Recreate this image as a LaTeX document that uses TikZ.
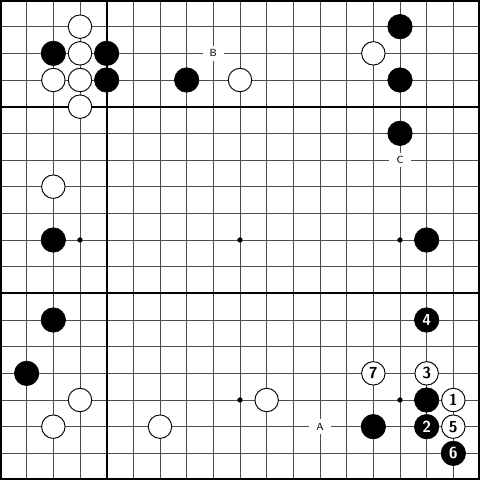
\documentclass[tikz,border=0pt]{standalone}
\usepackage{tikz}
\usetikzlibrary{arrows,shapes}

\begin{document}
\begin{tikzpicture}[x=0.5cm,y=-0.5cm,
    bstone/.style={shape=circle,fill=black,draw=black,line width=0.3pt,minimum size=0.46cm,inner sep=0pt,text=white,font=\sffamily\bfseries\fontsize{8.5}{8.5}\selectfont},
    wstone/.style={shape=circle,fill=white,draw=black,line width=0.5pt,minimum size=0.44cm,inner sep=0pt,text=black,font=\sffamily\bfseries\fontsize{8.5}{8.5}\selectfont},
    lbl/.style={fill=white,inner sep=0pt,minimum width=0.4cm,minimum height=0.28cm,font=\sffamily\fontsize{5.5}{5.5}\selectfont},
    star/.style={shape=circle,fill=black,inner sep=0pt,minimum size=0.1cm}]
                \useasboundingbox (0,0) rectangle (18,18);
                \begin{scope}
                \clip (0,0) rectangle (18,18);
                \foreach \i in {1,...,17}
                    {\draw[black!70,line width=0.5pt] (\i,0) -- (\i,18);
                     \draw[black!70,line width=0.5pt] (0,\i) -- (18,\i);}
                \draw[line width=1.1pt] (4,0) -- (4,18);
                \draw[line width=1.1pt] (0,4) -- (18,4);
                \draw[line width=1.1pt] (0,11) -- (18,11);
                \draw[line width=2.2pt] (0,0) rectangle (18,18);
                \end{scope}
                \foreach \x in {3,9,15}
                    \foreach \y in {3,9,15}
                        \node[star](s\x\y)at(\x,\y){};
                % labels
                \node[lbl](A)at(12,16){A};
                \node[lbl](B)at(8,2){B};
                \node[lbl](C)at(15,6){C};
                % top left
                \node[wstone](w1)at(3,1){};
                \node[bstone](b1)at(2,2){};
                \node[wstone](w2)at(3,2){};
                \node[bstone](b2)at(4,2){};
                \node[wstone](w3)at(2,3){};
                \node[wstone](w4)at(3,3){};
                \node[bstone](b3)at(4,3){};
                \node[wstone](w5)at(3,4){};
                \node[bstone](b4)at(7,3){};
                \node[wstone](w6)at(9,3){};
                % top right
                \node[bstone](b5)at(15,1){};
                \node[wstone](w7)at(14,2){};
                \node[bstone](b6)at(15,3){};
                \node[bstone](b7)at(15,5){};
                % sides
                \node[wstone](w8)at(2,7){};
                \node[bstone](b8)at(2,9){};
                \node[bstone](b9)at(16,9){};
                \node[bstone](b10)at(2,12){};
                % bottom
                \node[bstone](b11)at(1,14){};
                \node[wstone](w9)at(3,15){};
                \node[wstone](w10)at(2,16){};
                \node[wstone](w11)at(6,16){};
                \node[wstone](w12)at(10,15){};
                \node[bstone](b12)at(14,16){};
                \node[bstone](b13)at(16,15){};
                % moves
                \node[wstone](m1)at(17,15){1};
                \node[bstone](m2)at(16,16){2};
                \node[wstone](m3)at(16,14){3};
                \node[bstone](m4)at(16,12){4};
                \node[wstone](m5)at(17,16){5};
                \node[bstone](m6)at(17,17){6};
                \node[wstone](m7)at(14,14){7};
            \end{tikzpicture}
\end{document}
